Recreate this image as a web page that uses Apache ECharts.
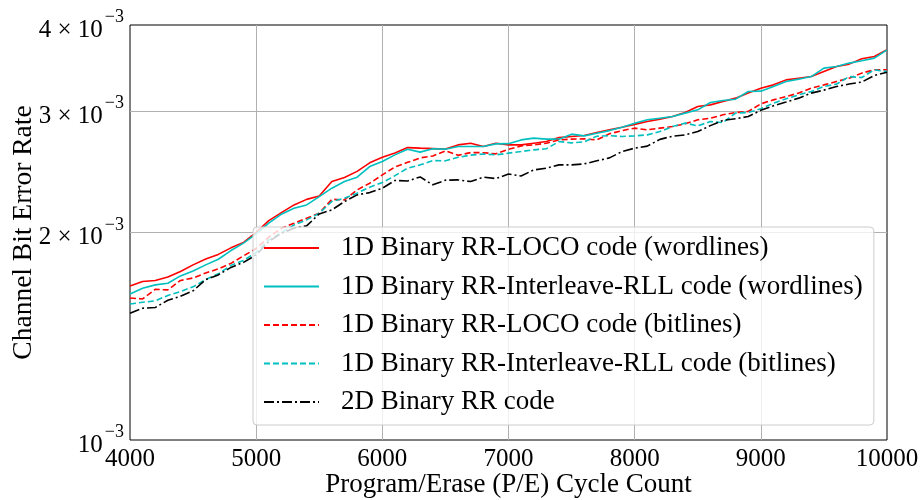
<!DOCTYPE html>
<html>
<head>
<meta charset="utf-8">
<script src="https://cdn.jsdelivr.net/npm/echarts@6/dist/echarts.min.js"></script>
<style>
  html, body { margin: 0; padding: 0; background: #fff; }
  #chart { width: 923px; height: 500px; }
</style>
</head>
<body>
<div id="chart"></div>
<script>
// P/E cycle counts
const cycles = [
  4000, 4100, 4200, 4300, 4400, 4500, 4600, 4700, 4800, 4900,
  5000, 5100, 5200, 5300, 5400, 5500, 5600, 5700, 5800, 5900,
  6000, 6100, 6200, 6300, 6400, 6500, 6600, 6700, 6800, 6900,
  7000, 7100, 7200, 7300, 7400, 7500, 7600, 7700, 7800, 7900,
  8000, 8100, 8200, 8300, 8400, 8500, 8600, 8700, 8800, 8900,
  9000, 9100, 9200, 9300, 9400, 9500, 9600, 9700, 9800, 9900,
  10000
];

// Channel bit error rates
const locoWordlines = [
  1.673e-3, 1.698e-3, 1.704e-3, 1.724e-3, 1.756e-3, 1.795e-3, 1.831e-3, 1.859e-3, 1.900e-3, 1.935e-3,
  2.001e-3, 2.081e-3, 2.137e-3, 2.193e-3, 2.234e-3, 2.260e-3, 2.371e-3, 2.404e-3, 2.453e-3, 2.524e-3,
  2.572e-3, 2.609e-3, 2.656e-3, 2.651e-3, 2.647e-3, 2.643e-3, 2.680e-3, 2.695e-3, 2.665e-3, 2.695e-3,
  2.680e-3, 2.680e-3, 2.695e-3, 2.710e-3, 2.746e-3, 2.756e-3, 2.765e-3, 2.793e-3, 2.818e-3, 2.843e-3,
  2.870e-3, 2.897e-3, 2.921e-3, 2.946e-3, 2.986e-3, 3.046e-3, 3.063e-3, 3.097e-3, 3.133e-3, 3.186e-3,
  3.239e-3, 3.275e-3, 3.330e-3, 3.349e-3, 3.367e-3, 3.424e-3, 3.482e-3, 3.510e-3, 3.573e-3, 3.600e-3,
  3.682e-3
];
const rllWordlines = [
  1.629e-3, 1.660e-3, 1.679e-3, 1.688e-3, 1.730e-3, 1.759e-3, 1.795e-3, 1.829e-3, 1.883e-3, 1.930e-3,
  1.991e-3, 2.063e-3, 2.126e-3, 2.169e-3, 2.193e-3, 2.255e-3, 2.319e-3, 2.371e-3, 2.406e-3, 2.493e-3,
  2.535e-3, 2.592e-3, 2.642e-3, 2.616e-3, 2.645e-3, 2.642e-3, 2.665e-3, 2.665e-3, 2.665e-3, 2.689e-3,
  2.691e-3, 2.725e-3, 2.741e-3, 2.732e-3, 2.732e-3, 2.778e-3, 2.762e-3, 2.787e-3, 2.811e-3, 2.843e-3,
  2.880e-3, 2.914e-3, 2.930e-3, 2.946e-3, 2.980e-3, 3.013e-3, 3.087e-3, 3.108e-3, 3.122e-3, 3.203e-3,
  3.207e-3, 3.257e-3, 3.312e-3, 3.338e-3, 3.367e-3, 3.463e-3, 3.482e-3, 3.522e-3, 3.549e-3, 3.581e-3,
  3.682e-3
];
const locoBitlines = [
  1.607e-3, 1.602e-3, 1.654e-3, 1.651e-3, 1.704e-3, 1.718e-3, 1.747e-3, 1.771e-3, 1.804e-3, 1.850e-3,
  1.896e-3, 1.969e-3, 2.029e-3, 2.063e-3, 2.098e-3, 2.133e-3, 2.235e-3, 2.230e-3, 2.306e-3, 2.358e-3,
  2.424e-3, 2.490e-3, 2.528e-3, 2.566e-3, 2.583e-3, 2.627e-3, 2.588e-3, 2.612e-3, 2.611e-3, 2.601e-3,
  2.640e-3, 2.671e-3, 2.680e-3, 2.695e-3, 2.725e-3, 2.732e-3, 2.734e-3, 2.725e-3, 2.781e-3, 2.811e-3,
  2.834e-3, 2.818e-3, 2.834e-3, 2.849e-3, 2.875e-3, 2.914e-3, 2.930e-3, 2.963e-3, 2.986e-3, 2.996e-3,
  3.074e-3, 3.115e-3, 3.150e-3, 3.186e-3, 3.239e-3, 3.275e-3, 3.312e-3, 3.349e-3, 3.406e-3, 3.444e-3,
  3.444e-3
];
const rllBitlines = [
  1.575e-3, 1.584e-3, 1.592e-3, 1.621e-3, 1.642e-3, 1.668e-3, 1.709e-3, 1.742e-3, 1.792e-3, 1.822e-3,
  1.871e-3, 1.951e-3, 1.999e-3, 2.051e-3, 2.086e-3, 2.133e-3, 2.218e-3, 2.243e-3, 2.281e-3, 2.327e-3,
  2.363e-3, 2.418e-3, 2.479e-3, 2.507e-3, 2.543e-3, 2.541e-3, 2.571e-3, 2.590e-3, 2.599e-3, 2.592e-3,
  2.607e-3, 2.621e-3, 2.636e-3, 2.646e-3, 2.710e-3, 2.698e-3, 2.707e-3, 2.759e-3, 2.764e-3, 2.756e-3,
  2.762e-3, 2.771e-3, 2.802e-3, 2.849e-3, 2.882e-3, 2.856e-3, 2.897e-3, 2.888e-3, 2.980e-3, 2.986e-3,
  3.023e-3, 3.081e-3, 3.126e-3, 3.168e-3, 3.203e-3, 3.257e-3, 3.283e-3, 3.367e-3, 3.356e-3, 3.444e-3,
  3.424e-3
];
const rr2d = [
  1.527e-3, 1.553e-3, 1.557e-3, 1.595e-3, 1.616e-3, 1.646e-3, 1.709e-3, 1.736e-3, 1.780e-3, 1.810e-3,
  1.856e-3, 1.940e-3, 1.995e-3, 2.029e-3, 2.045e-3, 2.128e-3, 2.157e-3, 2.218e-3, 2.268e-3, 2.285e-3,
  2.319e-3, 2.380e-3, 2.375e-3, 2.408e-3, 2.345e-3, 2.382e-3, 2.384e-3, 2.371e-3, 2.406e-3, 2.395e-3,
  2.431e-3, 2.416e-3, 2.465e-3, 2.479e-3, 2.507e-3, 2.507e-3, 2.515e-3, 2.541e-3, 2.566e-3, 2.621e-3,
  2.651e-3, 2.669e-3, 2.730e-3, 2.759e-3, 2.771e-3, 2.802e-3, 2.858e-3, 2.909e-3, 2.925e-3, 2.946e-3,
  3.008e-3, 3.055e-3, 3.092e-3, 3.133e-3, 3.186e-3, 3.218e-3, 3.257e-3, 3.284e-3, 3.306e-3, 3.379e-3,
  3.415e-3
];

const seriesNames = [
  '1D Binary RR-LOCO code (wordlines)',
  '1D Binary RR-Interleave-RLL code (wordlines)',
  '1D Binary RR-LOCO code (bitlines)',
  '1D Binary RR-Interleave-RLL code (bitlines)',
  '2D Binary RR code'
];

// Axis ticks
const xTickValues = [4000, 5000, 6000, 7000, 8000, 9000, 10000];
const xGridValues = [5000, 6000, 7000, 8000, 9000];
const yTickValues = [1e-3, 2e-3, 3e-3, 4e-3];
const yTickMantissa = ['', '2 × ', '3 × ', '4 × '];
const yGridValues = [2e-3, 3e-3];

const FONT = '"Liberation Serif", "DejaVu Serif", serif';

function pairs(ys) {
  return cycles.map((c, i) => [c, ys[i]]);
}

function makeSeries(name, ys, color, type) {
  return {
    name: name,
    type: 'line',
    data: pairs(ys),
    symbol: 'none',
    smooth: false,
    lineStyle: { color: color, width: 1.6, type: type },
    itemStyle: { color: color },
    emphasis: { disabled: true }
  };
}

const chart = echarts.init(document.getElementById('chart'), null, { renderer: 'canvas' });

chart.setOption({
  animation: false,
  backgroundColor: '#ffffff',
  grid: {
    left: 130, right: 36, top: 25, bottom: 60,
    outerBoundsMode: 'none',
    containLabel: false,
    show: true, borderColor: '#000000', borderWidth: 1,
    backgroundColor: 'transparent'
  },
  xAxis: {
    type: 'value',
    min: 4000, max: 10000, interval: 1000,
    name: 'Program/Erase (P/E) Cycle Count',
    nameLocation: 'middle',
    nameGap: 31,
    nameMoveOverlap: false,
    nameTextStyle: { fontFamily: FONT, fontSize: 27, color: '#000' },
    axisLine: { show: false },
    axisTick: { show: false, customValues: xGridValues },
    axisLabel: {
      customValues: xTickValues,
      formatter: function (v) { return String(v); },
      fontFamily: FONT, fontSize: 25, color: '#000', margin: 7
    },
    splitLine: { show: true, lineStyle: { color: '#b0b0b0', width: 1 } }
  },
  yAxis: {
    type: 'log',
    logBase: 10,
    min: 1e-3, max: 4e-3,
    name: 'Channel Bit Error Rate',
    nameLocation: 'middle',
    nameGap: 92,
    nameMoveOverlap: false,
    nameTextStyle: { fontFamily: FONT, fontSize: 27.5, color: '#000' },
    axisLine: { show: false },
    axisTick: { show: false, customValues: yGridValues },
    axisLabel: {
      customValues: yTickValues,
      margin: 6,
      formatter: function (v) {
        const i = yTickValues.findIndex(t => Math.abs(t - v) < 1e-9);
        const m = i >= 0 ? yTickMantissa[i] : '';
        return '{b|' + m + '10}{s|−3}';
      },
      rich: {
        b: { fontFamily: FONT, fontSize: 25, color: '#000', lineHeight: 24, padding: [10, 0, 0, 0] },
        s: { fontFamily: FONT, fontSize: 18, color: '#000', lineHeight: 16, padding: [0, 0, 15, 2] }
      }
    },
    splitLine: { show: true, lineStyle: { color: '#b0b0b0', width: 1 } },
    minorTick: { show: false },
    minorSplitLine: { show: false }
  },
  legend: {
    orient: 'vertical',
    left: 253, top: 227,
    padding: [7, 11, 9, 10],
    itemWidth: 55, itemHeight: 14, itemGap: 10.5,
    backgroundColor: 'rgba(255,255,255,0.8)',
    borderColor: '#cccccc', borderWidth: 1, borderRadius: 4,
    itemStyle: { opacity: 0 },
    textStyle: { fontFamily: FONT, fontSize: 27, color: '#000', lineHeight: 28, padding: [0, 0, 0, 17] },
    data: seriesNames
  },
  series: [
    makeSeries(seriesNames[0], locoWordlines, '#ff0000', 'solid'),
    makeSeries(seriesNames[1], rllWordlines, '#00bfbf', 'solid'),
    makeSeries(seriesNames[2], locoBitlines, '#ff0000', [6, 3]),
    makeSeries(seriesNames[3], rllBitlines, '#00bfbf', [6, 3]),
    makeSeries(seriesNames[4], rr2d, '#000000', [10, 3, 2, 3])
  ]
});
</script>
</body>
</html>
